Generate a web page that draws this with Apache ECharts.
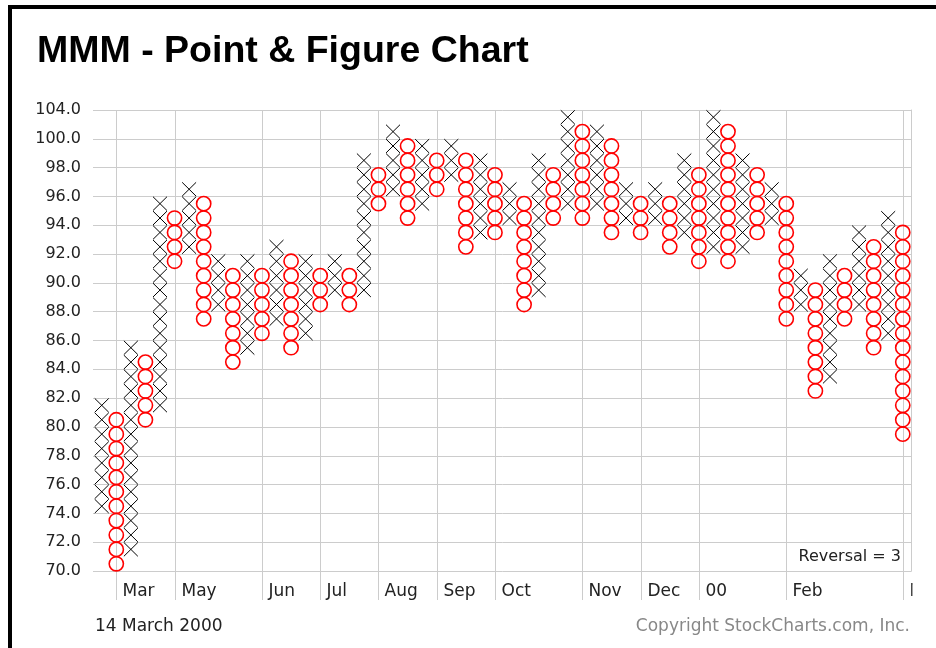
<!DOCTYPE html>
<html>
<head>
<meta charset="utf-8">
<title>MMM - Point & Figure Chart</title>
<script src="https://cdn.jsdelivr.net/npm/echarts@6/dist/echarts.min.js"></script>
<style>
  html, body { margin: 0; padding: 0; background: #fff; }
  #chart { width: 936px; height: 648px; }
</style>
</head>
<body>
<div id="chart"></div>
<script>
// one entry per column, left to right (prices of lowest and highest box)
const colType = ["X","O","X","O","X","O","X","O","X","O","X","O","X","O","X","O","X","O","X","O",
                 "X","O","X","O","X","O","X","O","X","O","X","O","X","O","X","O","X","O","X","O",
                 "X","O","X","O","X","O","X","O","X","O","X","O","X","O","X","O"];
const colLow  = [74,70,71,80,81,91,92,87,88,84,85,86,87,85,86,88,89,88,89,95,
                 96,94,95,96,97,92,93,93,94,88,89,94,95,94,95,93,94,93,94,92,
                 93,91,92,91,92,93,94,87,88,82,83,87,88,85,86,79];
const colHigh = [81,80,85,84,95,94,96,95,91,90,91,90,92,91,91,90,91,90,98,97,
                 100,99,99,98,99,98,98,97,96,95,98,97,102,100,100,99,96,95,96,95,
                 98,97,102,100,98,97,96,95,90,89,91,90,93,92,94,93];

// month marks: column where the month starts
const monthCols   = [1, 5, 11, 15, 19, 23, 27, 33, 37, 41, 47, 55];
const monthLabels = ["Mar","May","Jun","Jul","Aug","Sep","Oct","Nov","Dec","00","Feb","M"];

// y tick labels (box size 1 up to 100, 2 above)
const yTickRows   = [0,2,4,6,8,10,12,14,16,18,20,22,24,26,28,30,32];
const yTickLabels = ["70.0","72.0","74.0","76.0","78.0","80.0","82.0","84.0","86.0","88.0",
                     "90.0","92.0","94.0","96.0","98.0","100.0","104.0"];

function priceToRow(p) {
  return p <= 100 ? p - 70 : 30 + (p - 100) / 2;
}

// expand columns into boxes
const xBoxes = [];
const oBoxes = [];
for (let i = 0; i < colType.length; i++) {
  let p = colLow[i];
  while (p <= colHigh[i]) {
    (colType[i] === "X" ? xBoxes : oBoxes).push([i, priceToRow(p)]);
    p += p >= 100 ? 2 : 1;
  }
}

const FONT = "DejaVu Sans";
const GRID_COLOR = "#cccccc";

const myChart = echarts.init(document.getElementById("chart"), null, { renderer: "canvas" });

const option = {
  backgroundColor: "#fff",
  animation: false,
  grid: { left: 93, right: 24.5, top: 110, bottom: 77 },
  xAxis: {
    type: "value",
    min: -0.6,
    max: 55.6,
    axisLine: { show: false },
    axisTick: { show: false },
    axisLabel: { show: false },
    splitLine: { show: false }
  },
  yAxis: [
    {
      type: "value",
      min: 0,
      max: 32,
      interval: 2,
      axisLine: { show: false },
      axisTick: { show: false },
      axisLabel: {
        margin: 12,
        color: "#222",
        fontFamily: FONT,
        fontSize: 16,
        formatter: function (v) {
          const k = yTickRows.indexOf(v);
          return k >= 0 ? yTickLabels[k] : "";
        }
      },
      splitLine: { show: true, lineStyle: { color: GRID_COLOR, width: 1 } }
    },
    {
      type: "value",
      position: "right",
      min: 0,
      max: 32,
      axisLine: { show: true, lineStyle: { color: GRID_COLOR, width: 1 } },
      axisTick: { show: false },
      axisLabel: { show: false },
      splitLine: { show: false }
    }
  ],
  graphic: [
    { type: "rect", shape: { x: 8, y: 5, width: 4, height: 643 }, style: { fill: "#000" } },
    { type: "rect", shape: { x: 8, y: 5, width: 928, height: 4 }, style: { fill: "#000" } },
    {
      type: "text", left: 37, top: 33,
      style: { text: "MMM - Point & Figure Chart", fill: "#000", font: "bold 37.5px 'Liberation Sans'" }
    },
    {
      type: "text", left: 95, top: 618,
      style: { text: "14 March 2000", fill: "#222", font: "17px 'DejaVu Sans'" }
    },
    {
      type: "text", right: 26, top: 618,
      style: { text: "Copyright StockCharts.com, Inc.", fill: "#888", font: "17px 'DejaVu Sans'" }
    },
    {
      type: "text", right: 35, top: 549,
      style: { text: "Reversal = 3", fill: "#222", font: "16px 'DejaVu Sans'" }
    },
    // cut the last month label at the chart edge, as in the original
    { type: "rect", z: 100, shape: { x: 912.5, y: 575, width: 24, height: 30 }, style: { fill: "#fff" } }
  ],
  series: [
    {
      name: "months",
      type: "custom",
      clip: false,
      z: 1,
      data: monthCols.map((c, i) => [c, i]),
      renderItem: function (params, api) {
        const top = api.coord([api.value(0), 32]);
        const bottom = api.coord([api.value(0), 0]);
        const x = Math.round(top[0]) + 0.5;
        return {
          type: "group",
          children: [
            {
              type: "line",
              shape: { x1: x, y1: top[1], x2: x, y2: bottom[1] + 29 },
              style: { stroke: GRID_COLOR, lineWidth: 1 }
            },
            {
              type: "text",
              x: x + 6,
              y: bottom[1] + 21,
              style: {
                text: monthLabels[api.value(1)],
                fill: "#222",
                font: "17px 'DejaVu Sans'",
                verticalAlign: "middle",
                align: "left"
              }
            }
          ]
        };
      }
    },
    {
      name: "X",
      type: "custom",
      z: 3,
      data: xBoxes,
      renderItem: function (params, api) {
        const c = api.coord([api.value(0), api.value(1) + 0.5]);
        const s = api.size([1, 1]);
        const hw = s[0] / 2 - 0.3, hh = s[1] / 2 - 0.3;
        return {
          type: "group",
          children: [
            { type: "line", shape: { x1: c[0] - hw, y1: c[1] - hh, x2: c[0] + hw, y2: c[1] + hh },
              style: { stroke: "#000", lineWidth: 1 } },
            { type: "line", shape: { x1: c[0] + hw, y1: c[1] - hh, x2: c[0] - hw, y2: c[1] + hh },
              style: { stroke: "#000", lineWidth: 1 } }
          ]
        };
      }
    },
    {
      name: "O",
      type: "custom",
      z: 3,
      data: oBoxes,
      renderItem: function (params, api) {
        const c = api.coord([api.value(0), api.value(1) + 0.5]);
        const s = api.size([1, 1]);
        return {
          type: "circle",
          shape: { cx: c[0], cy: c[1], r: s[1] / 2 - 0.1 },
          style: { fill: "none", stroke: "#ff0000", lineWidth: 1.6 }
        };
      }
    }
  ]
};

myChart.setOption(option, true);
window.addEventListener("resize", function () {
  myChart.resize();
});
</script>
</body>
</html>
